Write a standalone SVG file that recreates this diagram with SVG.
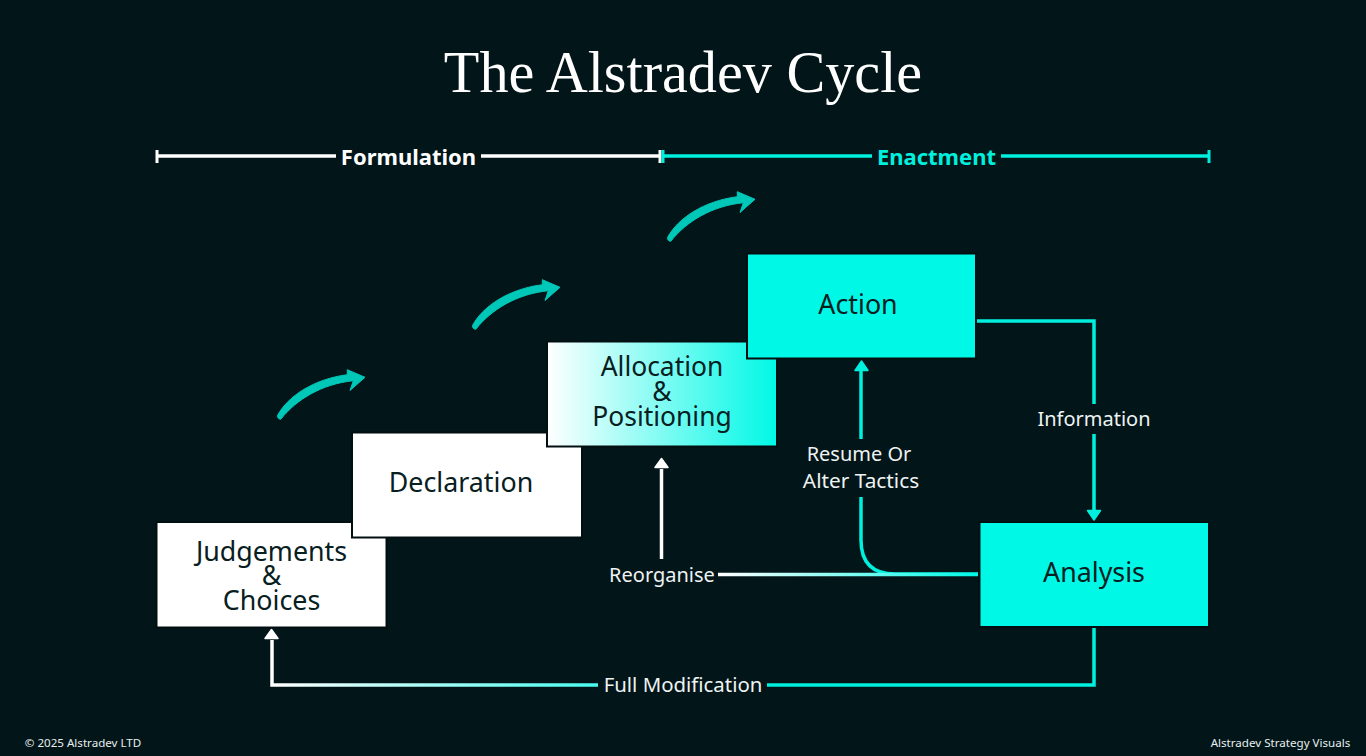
<svg xmlns="http://www.w3.org/2000/svg" width="1366" height="756" viewBox="0 0 1366 756">
<style>
text{font-family:"Noto Sans","Open Sans","Liberation Sans",sans-serif;text-anchor:middle}
.title{font-family:"Liberation Serif","Times New Roman",serif;font-size:58.200px;fill:#fff}
.node{font-size:26.800px;fill:#07201f}
.lab{font-size:20px;fill:#eef3f3}
.foot{font-size:11.600px;fill:#e8eeee}
.box{stroke:#020f10;stroke-width:2}
.line{fill:none;stroke-width:3.500}
.up{fill:#00c8b8;stroke:#00c8b8;stroke-width:1;stroke-linejoin:round}
.head{stroke-width:1.500;stroke-linejoin:round}
</style>
<defs>
<linearGradient id="gAlloc" x1="0" x2="1" y1="0" y2="0"><stop offset="0" stop-color="#fff"/><stop offset="1" stop-color="#00f8e6"/></linearGradient>
<linearGradient id="gFull" gradientUnits="userSpaceOnUse" x1="271" x2="1094" y1="0" y2="0"><stop offset="0" stop-color="#fff"/><stop offset="0.55" stop-color="#00f8e6"/></linearGradient>
<linearGradient id="gReorg" gradientUnits="userSpaceOnUse" x1="718" x2="978" y1="0" y2="0"><stop offset="0" stop-color="#fff"/><stop offset="1" stop-color="#00f8e6"/></linearGradient>
<path id="sweep" class="up" d="M-2.500 44.500C8 25 34 8 67.300 3.700L67.300 -1.300L85 6.300L70 19.500L73.300 9.700C42 13 17 28 1 48C0 49 -3 47 -2.500 44.500Z"/>
</defs>
<rect width="1366" height="756" fill="#021518"/>
<text class="title" x="683" y="92">The Alstradev Cycle</text>

<g id="connectors">
<g id="bar-formulation" stroke="#fff" stroke-width="3.500" fill="none"><path d="M157 156H336M481 156H660"/><path d="M157 150V163M660 150V163" stroke-width="3"/></g>
<g id="bar-enactment" stroke="#00f0de" stroke-width="3.500" fill="none"><path d="M663 156H872M1001 156H1209"/><path d="M663 150V163M1209 150V163" stroke-width="3"/></g>
<use href="#sweep" x="280" y="371"/>
<use href="#sweep" x="475" y="281"/>
<use href="#sweep" x="670" y="193"/>
<path class="line" stroke="#00f0de" d="M977 321H1094V404"/>
<path class="line" stroke="#00f0de" d="M1094 434V512"/>
<path class="head" fill="#00f0de" stroke="#00f0de" d="M1087.500 510.500H1100.500L1094 520Z"/>
<path class="line" stroke="#00f0de" d="M861 497V540Q861 574 895 574H978"/>
<path class="line" stroke="#00f0de" d="M861 439V370"/>
<path class="head" fill="#00f0de" stroke="#00f0de" d="M855 370.500L861.500 361L868 370.500Z"/>
<path class="line" stroke="url(#gReorg)" d="M718 574.500H978"/>
<path class="line" stroke="#fff" d="M661.500 559V469"/>
<path class="head" fill="#fff" stroke="#fff" d="M655 467.500L661.500 458.500L668 467.500Z"/>
<path class="line" stroke="#00f0de" d="M1094 628V685H767"/>
<path class="line" stroke="url(#gFull)" d="M598 685H272V640"/>
<path class="head" fill="#fff" stroke="#fff" d="M265 638.500L271.500 629.500L278 638.500Z"/>
</g>

<g id="node-judgements"><rect class="box" x="156.500" y="522" width="230" height="105.500" fill="#fff"/><text class="node" y="560.500"><tspan x="271.500">Judgements</tspan><tspan x="271.500" dy="24.500">&amp;</tspan><tspan x="271.500" dy="24.500">Choices</tspan></text></g>
<g id="node-declaration"><rect class="box" x="352" y="432.500" width="230" height="105" fill="#fff"/><text class="node" x="461" y="491.500">Declaration</text></g>
<g id="node-allocation"><rect class="box" x="547" y="341.500" width="230" height="105" fill="url(#gAlloc)"/><text class="node" y="375.500" style="font-size:26.400px"><tspan x="662">Allocation</tspan><tspan x="662" dy="25">&amp;</tspan><tspan x="662" dy="25">Positioning</tspan></text></g>
<g id="node-action"><rect class="box" x="747" y="253.500" width="229" height="105" fill="#00f8e6"/><text class="node" x="858" y="313.500">Action</text></g>
<g id="node-analysis"><rect class="box" x="979.500" y="522" width="229.500" height="105" fill="#00f8e6"/><text class="node" x="1094" y="581.500">Analysis</text></g>

<text x="408.500" y="165" font-size="22" font-weight="700" fill="#fff">Formulation</text>
<text x="936.500" y="165" font-size="22" font-weight="700" fill="#00f0de">Enactment</text>
<text class="lab" x="1094" y="426">Information</text>
<text class="lab" x="859" y="461">Resume Or</text>
<text class="lab" x="861" y="488" style="font-size:20.800px">Alter Tactics</text>
<text class="lab" x="662" y="582">Reorganise</text>
<text class="lab" x="683" y="692" style="font-size:20.400px">Full Modification</text>
<text class="foot" x="83" y="747">© 2025 Alstradev LTD</text>
<text class="foot" x="1280.500" y="747">Alstradev Strategy Visuals</text>
</svg>
